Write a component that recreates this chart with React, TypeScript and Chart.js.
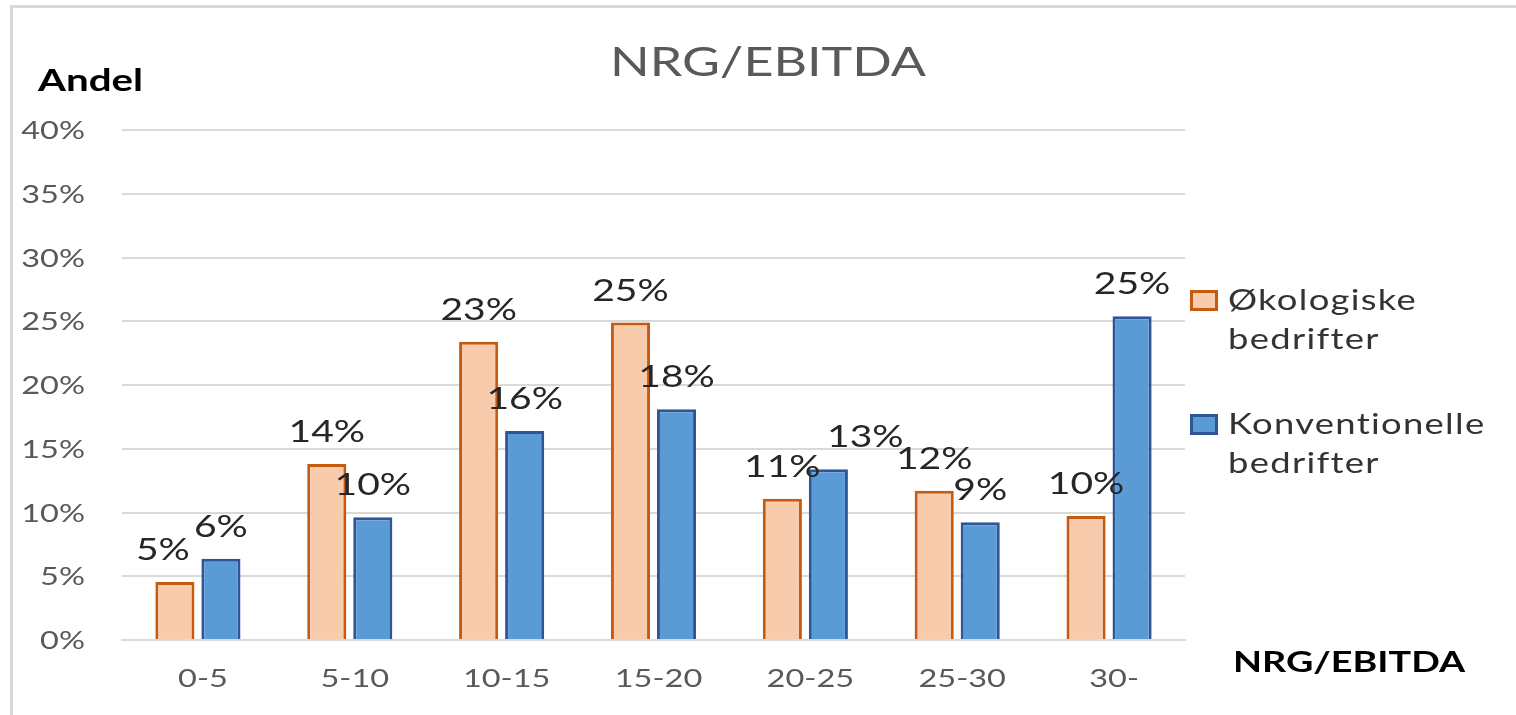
import React, { useEffect, useRef } from "react";
import { Chart, registerables } from "chart.js";

Chart.register(...registerables);

const categories = ["0-5", "5-10", "10-15", "15-20", "20-25", "25-30", "30-"];
const okologiske = [4.55, 13.8, 23.4, 24.9, 11.08, 11.7, 9.73];
const konventionelle = [6.38, 9.62, 16.4, 18.1, 13.4, 9.23, 25.4];
const seriesLabels = [
  ["Økologiske", "bedrifter"],
  ["Konventionelle", "bedrifter"],
];
const chartTitle = "NRG/EBITDA";
const yAxisTitle = "Andel";
const xAxisTitle = "NRG/EBITDA";
const yMax = 40;
const yStep = 5;

const OKO_FILL = "#F8CBAD";
const OKO_BORDER = "#C55A11";
const KON_FILL = "#5B9BD5";
const KON_BORDER = "#2F5597";
const GRID = "#d9d9d9";
const STRETCH = 1.3;
const FONT = "Lato, 'Open Sans', sans-serif";

// manual label nudges (dataset index, category index) -> dx in px
const LABEL_NUDGE: Record<string, number> = { "0-0": -12, "1-4": 37 };

function drawText(
  ctx: CanvasRenderingContext2D,
  s: string,
  x: number,
  baseline: number,
  font: string,
  color: string,
  align: "left" | "center" | "right",
  spacing = 0
) {
  ctx.save();
  ctx.font = font;
  (ctx as any).letterSpacing = `${spacing}px`;
  ctx.fillStyle = color;
  ctx.textBaseline = "alphabetic";
  ctx.textAlign = "left";
  const w = ctx.measureText(s).width * STRETCH;
  const x0 = align === "left" ? x : align === "center" ? x - w / 2 : x - w;
  ctx.translate(x0, baseline);
  ctx.scale(STRETCH, 1);
  ctx.fillText(s, 0, 0);
  ctx.restore();
}

const decorPlugin = {
  id: "decor",
  beforeDraw(chart: any) {
    const ctx = chart.ctx as CanvasRenderingContext2D;
    ctx.save();
    ctx.fillStyle = "#ffffff";
    ctx.fillRect(0, 0, chart.width, chart.height);
    ctx.fillStyle = GRID;
    ctx.fillRect(10, 5, chart.width - 10, 3);
    ctx.fillRect(10, 5, 3, chart.height - 5);
    ctx.restore();
  },
  afterDraw(chart: any) {
    const ctx = chart.ctx as CanvasRenderingContext2D;
    const ys = chart.scales.y;
    const xs = chart.scales.x;
    drawText(ctx, chartTitle, 768, 76, `40px ${FONT}`, "#595959", "center");
    drawText(ctx, yAxisTitle, 38, 91, `bold 31px ${FONT}`, "#000000", "left");
    drawText(ctx, xAxisTitle, 1233, 672, `bold 29px ${FONT}`, "#000000", "left");
    ys.ticks.forEach((t: any) => {
      const y = ys.getPixelForValue(t.value);
      drawText(ctx, `${t.value}%`, 85, y + 9, `25px ${FONT}`, "#595959", "right");
    });
    categories.forEach((c, i) => {
      const x = xs.getPixelForValue(i) + 5;
      drawText(ctx, c, x, 687, `25px ${FONT}`, "#595959", "center");
    });
    chart.data.datasets.forEach((ds: any, di: number) => {
      const meta = chart.getDatasetMeta(di);
      meta.data.forEach((bar: any, i: number) => {
        const v = ds.data[i];
        const dx = LABEL_NUDGE[`${di}-${i}`] || 0;
        drawText(ctx, `${Math.round(v)}%`, bar.x + dx, bar.y - 22, `30px ${FONT}`, "#262626", "center");
      });
    });
    const legendItems = [
      { fill: OKO_FILL, border: OKO_BORDER, top: 290, lines: seriesLabels[0], base: [310, 349] },
      { fill: KON_FILL, border: KON_BORDER, top: 414, lines: seriesLabels[1], base: [434, 473] },
    ];
    legendItems.forEach((it) => {
      ctx.save();
      ctx.fillStyle = it.fill;
      ctx.fillRect(1190, it.top, 28, 21);
      ctx.strokeStyle = it.border;
      ctx.lineWidth = 3;
      ctx.strokeRect(1191.5, it.top + 1.5, 25, 18);
      ctx.restore();
      it.lines.forEach((ln, k) => {
        drawText(ctx, ln, 1228, it.base[k], `28px ${FONT}`, "#333333", "left", 1);
      });
    });
  },
};

export default function App() {
  const ref = useRef<HTMLCanvasElement | null>(null);
  useEffect(() => {
    if (!ref.current) return;
    const chart = new Chart(ref.current, {
      type: "bar",
      data: {
        labels: categories,
        datasets: [
          {
            label: seriesLabels[0].join(" "),
            data: okologiske,
            backgroundColor: OKO_FILL,
            borderColor: OKO_BORDER,
            borderWidth: 3,
            categoryPercentage: 0.606,
            barPercentage: 0.85,
          },
          {
            label: seriesLabels[1].join(" "),
            data: konventionelle,
            backgroundColor: KON_FILL,
            borderColor: KON_BORDER,
            borderWidth: 3,
            categoryPercentage: 0.606,
            barPercentage: 0.85,
          },
        ],
      },
      options: {
        responsive: false,
        animation: false,
        devicePixelRatio: 1,
        layout: { padding: { top: 130, right: 331, left: 0, bottom: 0 } },
        plugins: {
          legend: { display: false },
          title: { display: false },
          tooltip: { enabled: false },
        },
        scales: {
          x: {
            grid: { display: false, drawTicks: false },
            border: { display: true, color: GRID, width: 2 },
            ticks: { display: false },
            afterFit: (s: any) => {
              s.height = 75;
            },
          },
          y: {
            min: 0,
            max: yMax,
            ticks: { display: false, stepSize: yStep },
            grid: { color: GRID, lineWidth: 2, drawTicks: false },
            border: { display: false },
            afterFit: (s: any) => {
              s.width = 122;
            },
          },
        },
      },
      plugins: [decorPlugin],
    });
    return () => chart.destroy();
  }, []);
  return (
    <div style={{ position: "fixed", left: 0, top: 0, width: 1516, height: 715, background: "#fff" }}>
      <canvas ref={ref} width={1516} height={715} style={{ display: "block" }} />
    </div>
  );
}
